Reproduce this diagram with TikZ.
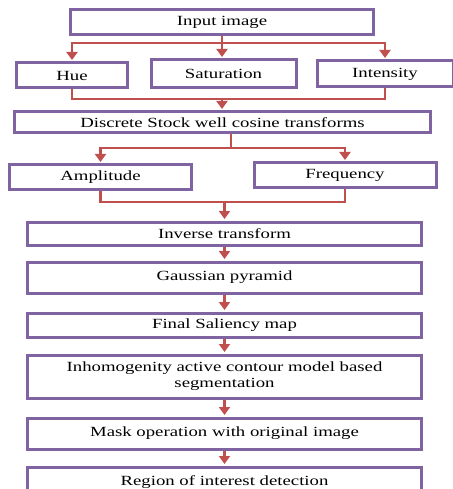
\documentclass[tikz,border=0pt]{standalone}
\usepackage{fontspec}
\setmainfont[FakeStretch=1.34]{Liberation Serif}
\usetikzlibrary{arrows.meta,calc}
\definecolor{boxpurple}{HTML}{8064A2}
\definecolor{linered}{HTML}{C0504D}
\begin{document}
\begin{tikzpicture}[x=1bp,y=-1bp,
  stepbox/.style={draw=boxpurple,line width=3bp,fill=white,rectangle,inner sep=0pt,
    font=\fontsize{14bp}{16bp}\selectfont,align=center},
  link/.style={draw=linered,line width=2.6bp},
  arr/.style={link,-{Triangle[length=8bp,width=11bp]},shorten >=1.5bp}]
\useasboundingbox (0,0) rectangle (453,489);
\begin{scope}
\clip (0,0) rectangle (453,489);
\node[stepbox,minimum width=302bp,minimum height=25bp] (in) at (222,22.5) {Input image};
\node[stepbox,minimum width=111bp,minimum height=25bp] (hue) at (72,75.5) {Hue};
\node[stepbox,minimum width=145bp,minimum height=28bp] (sat) at (223.5,74) {Saturation};
\node[stepbox,minimum width=136bp,minimum height=26bp] (int) at (385,74) {Intensity};
\node[stepbox,minimum width=415bp,minimum height=21bp] (disc) at (222.5,122.5) {Discrete Stock well cosine transforms};
\node[stepbox,minimum width=181bp,minimum height=24bp] (amp) at (100.5,177) {Amplitude};
\node[stepbox,minimum width=182bp,minimum height=24bp] (freq) at (345,175) {Frequency};
\node[stepbox,minimum width=393bp,minimum height=23bp] (inv) at (224.5,233.5) {Inverse transform};
\node[stepbox,minimum width=393bp,minimum height=31bp] (gauss) at (224.5,277.5) {Gaussian pyramid};
\node[stepbox,minimum width=393bp,minimum height=24bp] (final) at (224.5,325) {Final Saliency map};
\node[stepbox,minimum width=393bp,minimum height=43bp] (inh) at (224.5,376.5) {Inhomogenity active contour model based\\segmentation};
\node[stepbox,minimum width=393bp,minimum height=31bp] (mask) at (224.5,433.5) {Mask operation with original image};
\node[stepbox,minimum width=393bp,minimum height=30bp] (roi) at (224.5,482) {Region of interest detection};

\coordinate (s1) at (222,43);
\draw[link] (in.south) -- (s1);
\draw[arr] (s1) -| (hue.north);
\draw[arr] (s1) -| (int.north);
\draw[arr] (s1) -- (s1 |- sat.north);

\coordinate (m1) at (222,99);
\draw[link] (hue.south) |- (m1) -| (int.south);
\draw[arr] (m1) -- (m1 |- disc.north);

\coordinate (s2) at (231,148);
\draw[link] (s2 |- disc.south) -- (s2);
\draw[arr] (s2) -| (amp.north);
\draw[arr] (s2) -| (freq.north);

\coordinate (m2) at (224.5,202);
\draw[link] (amp.south) |- (m2) -| (freq.south);
\draw[arr] (m2) -- (inv.north);

\draw[arr] (inv.south) -- (gauss.north);
\draw[arr] (gauss.south) -- (final.north);
\draw[arr] (final.south) -- (inh.north);
\draw[arr] (inh.south) -- (mask.north);
\draw[arr] (mask.south) -- (roi.north);
\end{scope}
\end{tikzpicture}
\end{document}
